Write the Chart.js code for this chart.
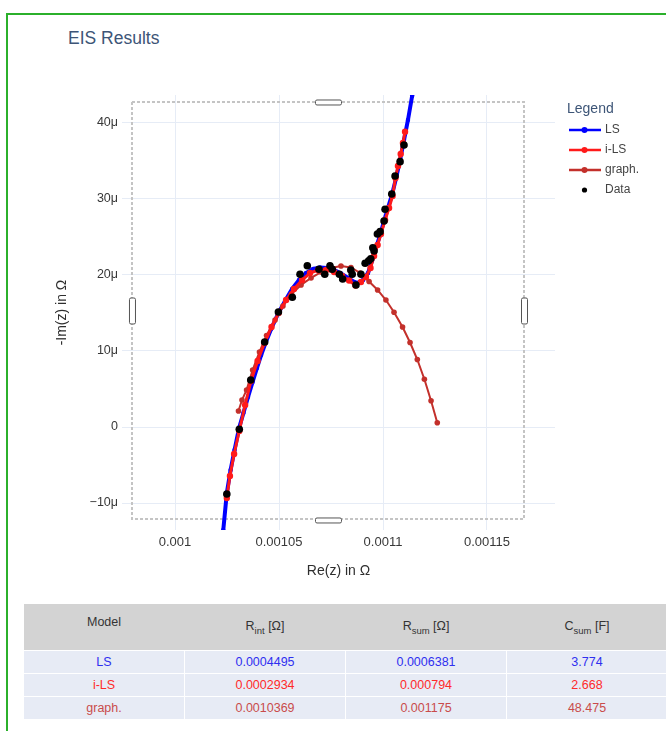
<!DOCTYPE html>
<html>
<head>
<meta charset="utf-8">
<script src="https://cdn.jsdelivr.net/npm/chart.js@4.4.0/dist/chart.umd.min.js"></script>
<style>
body { margin: 0; width: 666px; height: 731px; overflow: hidden; background: #fff; position: relative;
       font-family: "Liberation Sans", Arial, sans-serif; }
#frame { position: absolute; left: 6px; top: 13px; width: 720px; height: 800px; border: 2px solid #2bb02b; }
#title { position: absolute; left: 68px; top: 28px; font-size: 17.5px; color: #3d5577; }
#eis { position: absolute; left: 0; top: 0; }
#results { position: absolute; left: 23px; top: 604px; width: 645px; border-collapse: collapse; table-layout: fixed;
           font-size: 12.5px; }
#results th { background: #d3d3d3; height: 43px; font-weight: normal; color: #333; padding: 0 0 3px 0; line-height: 14px; }
#results th .up { position: relative; top: -4px; }
#results th sub { font-size: 9.5px; vertical-align: -4px; line-height: 0; }
#results td { background: #e7ebf5; height: 22px; text-align: center; border: 1px solid #fff; padding: 0; }
</style>
</head>
<body>
<div id="frame"></div>
<div id="title">EIS Results</div>
<canvas id="eis" width="666" height="600"></canvas>
<table id="results"><thead><tr id="head"></tr></thead><tbody id="rows"></tbody></table>
<script>
// y values are in µΩ (axis labels carry the µ)
const xTicks = [0.001, 0.00105, 0.0011, 0.00115];
const xTickLabels = ['0.001', '0.00105', '0.0011', '0.00115'];
const yTicks = [-10, 0, 10, 20, 30, 40];
const yTickLabels = ['\u221210\u03bc', '0', '10\u03bc', '20\u03bc', '30\u03bc', '40\u03bc'];

const lsX = [0.0010224, 0.0010232, 0.0010249, 0.0010267, 0.0010286, 0.0010308, 0.0010329, 0.0010351, 0.0010373, 0.0010394,
             0.0010414, 0.0010435, 0.0010462, 0.0010495, 0.0010529, 0.0010563, 0.0010596, 0.0010630, 0.0010664, 0.0010697,
             0.0010731, 0.0010765, 0.0010798, 0.0010832, 0.0010861, 0.0010880, 0.0010904, 0.0010928, 0.0010947, 0.0010966,
             0.0010986, 0.0011005, 0.0011024, 0.0011043, 0.0011063, 0.0011082, 0.0011101, 0.0011120, 0.0011140, 0.0011147];
const lsY = [-15.53, -13.55, -8.68, -5.66, -3.03, -0.13, 1.84, 3.95, 5.92, 7.76,
             9.47, 11.05, 12.89, 14.87, 16.58, 18.16, 19.34, 20.26, 20.79, 20.99,
             20.92, 20.66, 20.20, 19.61, 19.08, 18.95, 19.34, 20.26, 21.84, 23.55,
             25.26, 27.11, 28.82, 30.53, 32.76, 35.13, 37.76, 40.39, 43.55, 44.74];

const ilsX = [0.0010249, 0.0010264, 0.0010284, 0.0010309, 0.0010337, 0.0010365, 0.0010397, 0.0010430, 0.0010464, 0.0010498,
              0.0010534, 0.0010572, 0.0010611, 0.0010649, 0.0010688, 0.0010726, 0.0010765, 0.0010803, 0.0010837, 0.0010868,
              0.0010894, 0.0010918, 0.0010940, 0.0010957, 0.0010974, 0.0010990, 0.0011010, 0.0011029, 0.0011046, 0.0011060,
              0.0011072, 0.0011085, 0.0011096, 0.0011106];
const ilsY = [-9.34, -6.45, -3.55, -0.53, 2.89, 6.05, 8.68, 11.05, 13.16, 15.0,
              16.71, 18.16, 19.34, 20.26, 20.66, 20.66, 20.39, 19.87, 19.28, 18.62,
              19.08, 19.74, 20.92, 22.5, 23.95, 25.39, 27.24, 28.82, 30.39, 32.76,
              34.34, 35.92, 37.37, 38.86];

const graphX = [0.0010305, 0.0010322, 0.0010344, 0.0010373, 0.0010406, 0.0010440, 0.0010481, 0.0010519, 0.0010560, 0.0010606,
                0.0010654, 0.0010702, 0.0010750, 0.0010798, 0.0010846, 0.0010890, 0.0010933, 0.0010974, 0.0011014, 0.0011053,
                0.0011094, 0.0011130, 0.0011165, 0.0011199, 0.0011231, 0.0011261];
const graphY = [2.11, 3.55, 4.87, 7.5, 9.87, 12.04, 14.08, 15.92, 17.5, 18.68,
                19.61, 20.39, 20.92, 21.18, 20.99, 20.26, 19.14, 18.03, 16.71, 15.09,
                13.16, 11.12, 8.88, 6.28, 3.46, 0.57];

const dataX = [0.0010249, 0.0010309, 0.0010364, 0.0010431, 0.0010497, 0.0010564, 0.0010601, 0.0010636, 0.0010692, 0.0010720,
               0.0010745, 0.0010756, 0.0010790, 0.0010806, 0.0010845, 0.0010852, 0.0010870, 0.0010894, 0.0010914, 0.0010931,
               0.0010941, 0.0010951, 0.0010957, 0.0010973, 0.0010986, 0.0011005, 0.0011010, 0.0011042, 0.0011058, 0.0011082,
               0.0011101];
const dataY = [-8.82, -0.30, 6.18, 11.18, 15.13, 17.07, 20.09, 21.22, 20.75, 20.09,
               21.22, 20.75, 20.09, 19.47, 20.66, 20.09, 18.68, 20.09, 21.54, 21.88,
               22.14, 23.59, 23.16, 25.39, 25.70, 27.11, 28.64, 30.66, 33.03, 34.91,
               37.11];

// dashed selection box drawn over the plot (data units)
const boxX = [0.0009793, 0.0011678];
const boxY = [-12.1, 42.76];

const models = ['LS', 'i-LS', 'graph.'];
const rInt = ['0.0004495', '0.0002934', '0.0010369'];
const rSum = ['0.0006381', '0.000794', '0.001175'];
const cSum = ['3.774', '2.668', '48.475'];
const modelColors = ['#2f2ff0', '#ff2a2a', '#c94b4b'];
const headers = ['<span class="up">Model</span>', 'R<sub>int</sub> [\u03a9]', 'R<sub>sum</sub> [\u03a9]', 'C<sub>sum</sub> [F]'];

const pts = (xs, ys) => xs.map((x, i) => ({x: x, y: ys[i]}));

// table
document.getElementById('head').innerHTML = headers.map(h => '<th>' + h + '</th>').join('');
document.getElementById('rows').innerHTML = models.map((m, i) =>
    '<tr style="color:' + modelColors[i] + '"><td>' + m + '</td><td>' + rInt[i] + '</td><td>' + rSum[i] +
    '</td><td>' + cSum[i] + '</td></tr>').join('');

function legendIcon(color, line, r) {
    const c = document.createElement('canvas');
    c.width = 40; c.height = 12;
    const g = c.getContext('2d');
    if (line) {
        g.strokeStyle = color; g.lineWidth = 2.5;
        g.beginPath(); g.moveTo(8, 6); g.lineTo(40, 6); g.stroke();
    }
    g.fillStyle = color;
    g.beginPath(); g.arc(23.5, 6, r, 0, Math.PI * 2); g.fill();
    return c;
}

const boxPlugin = {
    id: 'selBox',
    beforeLayout(chart) {
        const lg = chart.legend;
        if (lg && !lg._fixed) {
            const fit = lg.fit;
            lg.fit = function () { fit.call(this); this.width = 111; };
            lg._fixed = true;
        }
    },
    beforeDatasetsDraw(chart) {
        const {ctx, scales: {x, y}} = chart;
        const l = x.getPixelForValue(boxX[0]), r = x.getPixelForValue(boxX[1]);
        const t = y.getPixelForValue(boxY[1]), b = y.getPixelForValue(boxY[0]);
        ctx.save();
        ctx.strokeStyle = '#c4c4c4';
        ctx.lineWidth = 2;
        ctx.setLineDash([3, 2]);
        ctx.strokeRect(l, t, r - l, b - t);
        ctx.setLineDash([]);
        ctx.fillStyle = '#fff';
        ctx.strokeStyle = '#555';
        ctx.lineWidth = 1;
        const cx = (l + r) / 2, cy = (t + b) / 2;
        const handles = [[cx - 13, t - 2.5, 26, 5], [cx - 13, b - 1.5, 26, 5], [l - 3, cy - 13, 6, 26], [r - 3, cy - 13, 6, 26]];
        handles.forEach(h => {
            ctx.beginPath();
            ctx.roundRect(h[0] + 0.5, h[1] + 0.5, h[2], h[3], 1.5);
            ctx.fill(); ctx.stroke();
        });
        ctx.restore();
    },
    afterDraw(chart) {
        // legend heading, set in a little from the legend's left edge
        const lg = chart.legend;
        const ctx = chart.ctx;
        ctx.save();
        ctx.font = '14px "Liberation Sans", Arial, sans-serif';
        ctx.fillStyle = '#3d5577';
        ctx.textAlign = 'left';
        ctx.textBaseline = 'middle';
        ctx.fillText('Legend', lg.left + 12, lg.top + 14);
        ctx.restore();
    }
};

Chart.defaults.font.family = '"Liberation Sans", Arial, sans-serif';

const chart = new Chart(document.getElementById('eis').getContext('2d'), {
    type: 'scatter',
    data: {
        datasets: [{
            label: 'LS', data: pts(lsX, lsY), showLine: true,
            borderColor: '#0000ff', backgroundColor: '#0000ff', borderWidth: 4,
            pointRadius: 2.2, pointBorderWidth: 0, order: 3
        }, {
            label: 'i-LS', data: pts(ilsX, ilsY), showLine: true,
            borderColor: '#ff1a1a', backgroundColor: '#ff1a1a', borderWidth: 3,
            pointRadius: 3.2, pointBorderWidth: 0, order: 1
        }, {
            label: 'graph.', data: pts(graphX, graphY), showLine: true,
            borderColor: '#c3302b', backgroundColor: '#c3302b', borderWidth: 2,
            pointRadius: 2.8, pointBorderWidth: 0, order: 2
        }, {
            label: 'Data', data: pts(dataX, dataY), showLine: false,
            borderColor: '#000', backgroundColor: '#000',
            pointRadius: 3.8, pointBorderWidth: 0, order: 0
        }]
    },
    options: {
        responsive: false,
        animation: false,
        layout: {padding: {top: 95, left: 54, right: 0, bottom: 20}},
        scales: {
            x: {
                type: 'linear', min: 0.0009745, max: 0.0011827,
                afterBuildTicks: s => { s.ticks = xTicks.map(v => ({value: v})); },
                afterFit: s => { s.height = 50; },
                grid: {color: '#e6ecf6', drawTicks: false},
                border: {display: false},
                ticks: {color: '#383838', font: {size: 13}, padding: 5, maxRotation: 0, autoSkip: false,
                        callback: (v, i) => xTickLabels[i]},
                title: {display: true, text: 'Re(z) in \u03a9', color: '#2e2e2e', font: {size: 14}, padding: {top: 4, bottom: 0}}
            },
            y: {
                type: 'linear', min: -13.55, max: 43.68,
                afterBuildTicks: s => { s.ticks = yTicks.map(v => ({value: v})); },
                afterFit: s => { s.width = 68; },
                grid: {color: '#e6ecf6', drawTicks: false},
                border: {display: false},
                ticks: {color: '#383838', font: {size: 12.5}, padding: 4, autoSkip: false,
                        callback: (v, i) => yTickLabels[i]},
                title: {display: true, text: '-Im(z) in \u03a9', color: '#2e2e2e', font: {size: 14}, padding: {top: 0, bottom: 0}}
            }
        },
        plugins: {
            tooltip: {enabled: false},
            legend: {
                position: 'right', align: 'start',
                onClick: null,
                // keeps the room for the heading; the heading itself is drawn in afterDraw
                title: {display: true, text: 'Legend', color: 'rgba(0,0,0,0)', position: 'start',
                        font: {size: 14, lineHeight: 1}, padding: {top: 7, bottom: 0}},
                labels: {
                    usePointStyle: true, pointStyleWidth: 36, padding: 8,
                    color: '#444', font: {size: 12},
                    generateLabels: ch => ch.data.datasets.map((ds, i) => ({
                        text: ds.label, datasetIndex: i, hidden: false, fontColor: '#444',
                        pointStyle: legendIcon(ds.borderColor, ds.showLine, ds.showLine ? 3 : 2.6),
                        fillStyle: 'transparent', strokeStyle: 'transparent', lineWidth: 0
                    }))
                }
            }
        }
    },
    plugins: [boxPlugin]
});
</script>
</body>
</html>
